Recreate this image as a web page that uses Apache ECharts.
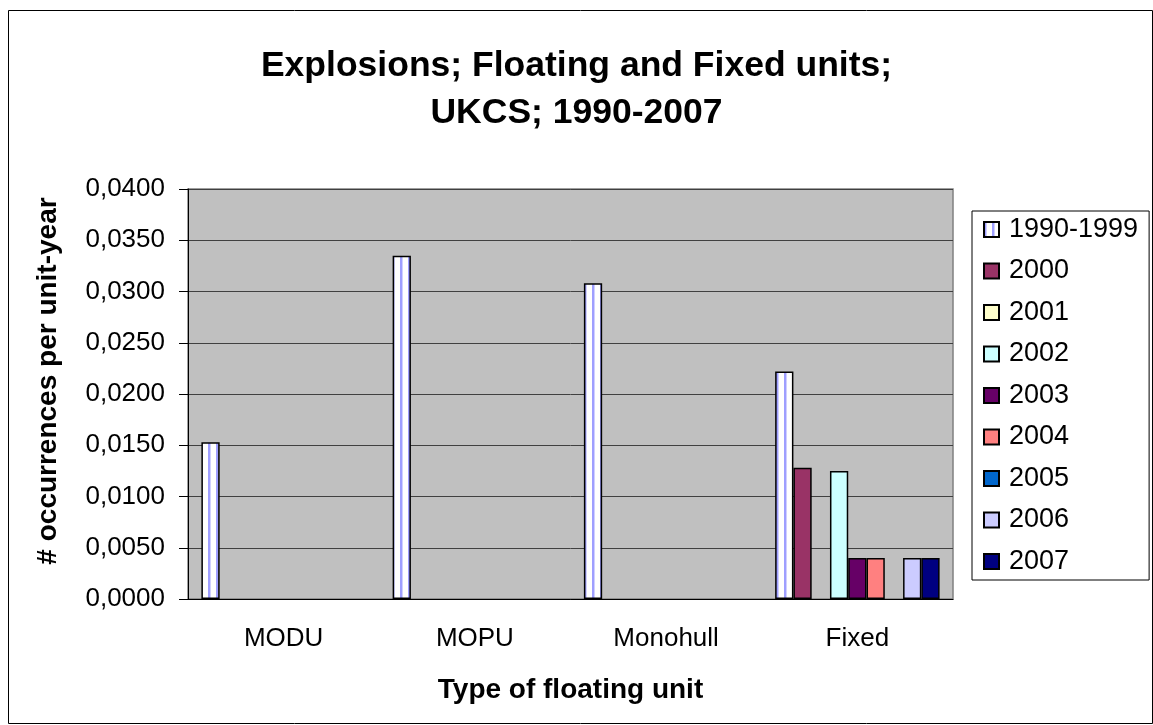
<!DOCTYPE html>
<html>
<head>
<meta charset="utf-8">
<script src="https://cdn.jsdelivr.net/npm/echarts@6/dist/echarts.min.js"></script>
<style>
  html, body { margin: 0; padding: 0; background: #fff; }
  #chart { width: 1153px; height: 725px; }
</style>
</head>
<body>
<div id="chart"></div>
<script>
// categories + values
const categories = ['MODU', 'MOPU', 'Monohull', 'Fixed']
const seriesNames = ['1990-1999', '2000', '2001', '2002', '2003', '2004', '2005', '2006', '2007']
const v1990 = [0.0153, 0.0335, 0.0308, 0.0222]
const v2000 = [0, 0, 0, 0.0128]
const v2001 = [0, 0, 0, 0]
const v2002 = [0, 0, 0, 0.0125]
const v2003 = [0, 0, 0, 0.0040]
const v2004 = [0, 0, 0, 0.0040]
const v2005 = [0, 0, 0, 0]
const v2006 = [0, 0, 0, 0.0040]
const v2007 = [0, 0, 0, 0.0040]
const yTicks = { min: 0, max: 0.04, interval: 0.005 }

const FONT = '"Liberation Sans", Arial, sans-serif'

// striped fill for 1990-1999 (white with light blue verticals)
function stripes() {
  const c = document.createElement('canvas')
  c.width = 8
  c.height = 4
  const ctx = c.getContext('2d')
  ctx.fillStyle = '#ffffff'
  ctx.fillRect(0, 0, 8, 4)
  ctx.fillStyle = '#9f9fff'
  ctx.fillRect(0, 0, 2, 4)
  ctx.fillStyle = '#d0d0ff'
  ctx.fillRect(2, 0, 1, 4)
  return c
}

const colors = [
  { image: stripes(), repeat: 'repeat' },
  '#993366', '#FFFFCC', '#CCFFFF', '#660066', '#FF8080', '#0066CC', '#CCCCFF', '#000080'
]
const values = [v1990, v2000, v2001, v2002, v2003, v2004, v2005, v2006, v2007]

const chart = echarts.init(document.getElementById('chart'))

const option = {
  animation: false,
  textStyle: { fontFamily: FONT },
  title: {
    text: 'Explosions; Floating and Fixed units;\nUKCS; 1990-2007',
    left: 'center',
    top: 38,
    textStyle: {
      fontFamily: FONT,
      fontSize: 35.5,
      fontWeight: 'bold',
      color: '#000',
      lineHeight: 47
    }
  },
  legend: {
    orient: 'vertical',
    left: 972,
    top: 211,
    padding: [5, 11, 5, 11],
    itemWidth: 15,
    itemHeight: 15,
    itemGap: 14.5,
    borderColor: '#000',
    borderWidth: 1,
    icon: 'rect',
    textStyle: {
      fontFamily: FONT,
      fontSize: 27,
      color: '#000',
      padding: [0, 0, 0, 5]
    },
    data: seriesNames
  },
  grid: {
    left: 188,
    right: 200,
    top: 189,
    bottom: 126,
    show: true,
    backgroundColor: '#C0C0C0',
    borderColor: '#808080',
    borderWidth: 1.5
  },
  xAxis: {
    type: 'category',
    data: categories,
    name: 'Type of floating unit',
    nameLocation: 'middle',
    nameGap: 77,
    nameTextStyle: { fontFamily: FONT, fontSize: 28, fontWeight: 'bold', color: '#000' },
    axisLine: { lineStyle: { color: '#000', width: 1 } },
    axisTick: { length: 9, lineStyle: { color: '#000' } },
    axisLabel: { margin: 27, fontFamily: FONT, fontSize: 26, color: '#000' }
  },
  yAxis: {
    type: 'value',
    min: yTicks.min,
    max: yTicks.max,
    interval: yTicks.interval,
    name: '# occurrences per unit-year',
    nameLocation: 'middle',
    nameGap: 126,
    nameTextStyle: {
      fontFamily: FONT, fontSize: 28, fontWeight: 'bold', color: '#000',
      padding: [0, 0, 0, 26]
    },
    axisLine: { show: true, lineStyle: { color: '#000', width: 1 } },
    axisTick: { show: true, length: 9, lineStyle: { color: '#000' } },
    axisLabel: {
      margin: 23,
      fontFamily: FONT,
      fontSize: 26,
      color: '#000',
      formatter: v => v.toFixed(4).replace('.', ',')
    },
    splitLine: { lineStyle: { color: '#404040', width: 1 } }
  },
  series: seriesNames.map((name, i) => ({
    name: name,
    type: 'bar',
    // empty cells (0) are not drawn, same as the original
    data: values[i].map(v => (v === 0 ? null : v)),
    barGap: '0%',
    barCategoryGap: '14%',
    itemStyle: { color: colors[i], borderColor: '#000', borderWidth: 1.5 }
  })),
  graphic: [{
    type: 'rect',
    left: 6,
    top: 8,
    shape: { width: 1144, height: 713 },
    style: { fill: 'none', stroke: '#000', lineWidth: 1 },
    silent: true
  }]
}

chart.setOption(option)
</script>
</body>
</html>
